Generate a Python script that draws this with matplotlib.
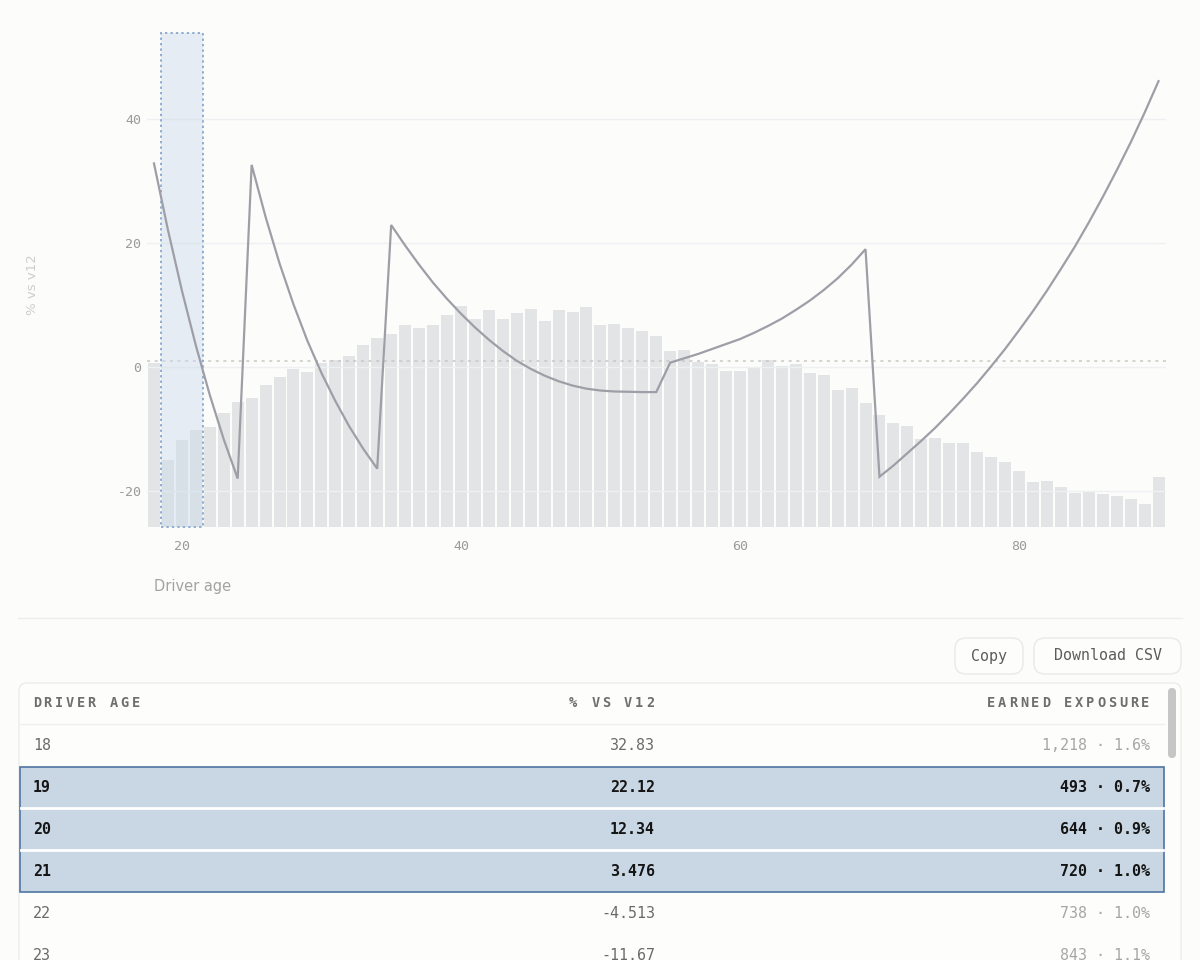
import matplotlib
matplotlib.use("Agg")
import matplotlib.pyplot as plt
from matplotlib.patches import FancyBboxPatch, Rectangle

# ---------------- data ----------------
ages = list(range(18, 91))
pct_vs_v12 = [
    32.83, 22.12, 12.34, 3.476, -4.513, -11.67, -18.0,            # 18-24
    32.6, 24.2, 16.7, 10.1, 4.2, -0.95, -5.5, -9.6, -13.2, -16.4,   # 25-34
    22.9, 19.6, 16.5, 13.6, 11.0, 8.6, 6.4, 4.4, 2.6, 1.0,          # 35-44
    -0.3, -1.4, -2.3, -3.0, -3.5, -3.8, -3.95, -4.0, -4.05, -4.05,  # 45-54
    0.7, 1.4, 2.1, 2.9, 3.7, 4.5, 5.5, 6.6, 7.8, 9.2,               # 55-64
    10.7, 12.4, 14.3, 16.5, 19.0,                                   # 65-69
    -17.7, -15.9, -13.9, -11.9, -9.8, -7.5, -5.1, -2.6, 0.1, 2.9,   # 70-79
    5.9, 9.0, 12.3, 15.8, 19.4, 23.3, 27.4, 31.7, 36.2, 41.0, 46.1, # 80-90
]
exposure = [
    1218, 493, 644, 720, 738, 843,          # 18-23
    928, 953, 1052, 1109, 1173, 1151,       # 24-29
    1217, 1237, 1267, 1346, 1398, 1427,     # 30-35
    1496, 1476, 1496, 1570, 1637, 1538,     # 36-41
    1605, 1538, 1588, 1617, 1526, 1607,     # 42-47
    1595, 1630, 1494, 1501, 1472, 1449,     # 48-53
    1417, 1304, 1311, 1222, 1205, 1156,     # 54-59
    1156, 1178, 1235, 1195, 1210, 1141,     # 60-65
    1128, 1017, 1032, 916, 827, 773,        # 66-71
    746, 654, 662, 622, 622, 556,           # 72-77
    519, 484, 417, 336, 338, 296,           # 78-83
    252, 259, 242, 232, 205, 173,           # 84-89
    373,                                    # 90
]
selected_ages = [19, 20, 21]
table_ages = [18, 19, 20, 21, 22, 23]
ref_level = 1.0
yticks = [-20, 0, 20, 40]
xticks = [20, 40, 60, 80]
headers = ["DRIVER AGE", "% VS V12", "EARNED EXPOSURE"]
buttons = ["Copy", "Download CSV"]
x_label = "Driver age"
y_label = "% vs v12"

# ---------------- style ----------------
BG = "#fcfcfb"
MONO = "DejaVu Sans Mono"
SANS = "DejaVu Sans"
W, H = 1200, 960

fig = plt.figure(figsize=(12, 9.6), dpi=100)
fig.patch.set_facecolor(BG)

# UI layer in pixel coordinates
ui = fig.add_axes([0, 0, 1, 1])
ui.set_xlim(0, W)
ui.set_ylim(H, 0)
ui.axis("off")
ui.set_zorder(0)

# ---------------- chart ----------------
L, R, T, B = 147, 1165.5, 33, 527
ax_bar = fig.add_axes([L / W, 1 - B / H, (R - L) / W, (B - T) / H])
ax_bar.set_zorder(1)
ax_bar.patch.set_alpha(0)
ax_bar.bar(ages, exposure, width=0.86, color="#e3e4e6", linewidth=0)
ax_bar.set_ylim(0, 3659)
ax_bar.set_xlim(17.5, 90.5)
ax_bar.set_yticks([])
for s in ax_bar.spines.values():
    s.set_visible(False)

ax = ax_bar.twinx()
ax.set_zorder(2)
ax.patch.set_alpha(0)
ax.set_ylim(-25.81, 53.87)
ax.set_xlim(17.5, 90.5)
for s in ax.spines.values():
    s.set_visible(False)
ax.yaxis.tick_left()
ax.set_yticks(yticks)
ax.set_yticklabels([str(t) for t in yticks], fontfamily=MONO, fontsize=9.5, color="#9a9a9a")
ax.tick_params(axis="y", length=0, pad=4)
ax_bar.set_xticks(xticks)
ax_bar.set_xticklabels([str(t) for t in xticks], fontfamily=MONO, fontsize=9.5, color="#9a9a9a")
ax_bar.tick_params(axis="x", length=0, pad=9)

for t in yticks:
    ax.axhline(t, color="#eef1f1", lw=1, zorder=0)
ax.axhline(ref_level, color="#c8c8c8", lw=1.1, ls=(0, (2, 3)), zorder=1)

# selection band
lo, hi = min(selected_ages) - 0.5, max(selected_ages) + 0.5
ax.axvspan(lo, hi, facecolor="#c9daea", alpha=0.45, lw=0, zorder=2)
ax.add_patch(Rectangle((lo, -25.81), hi - lo, 53.87 + 25.81, fill=False,
                       ec="#8fadd0", lw=1.4, ls=(0, (1.2, 1.6)), zorder=3,
                       clip_on=False))

ax.plot(ages, pct_vs_v12, color="#9e9ea6", lw=1.6, zorder=4, solid_joinstyle="miter")

fig.text(32 / W, 1 - 285 / H, y_label, rotation=90, ha="center", va="center",
         fontfamily=SANS, fontsize=9.5, color="#cdcdcd")
fig.text(154 / W, 1 - 587 / H, x_label, ha="left", va="center",
         fontfamily=SANS, fontsize=10.5, color="#a3a3a3")

# ---------------- UI: separator, buttons, table ----------------
ui.plot([18, 1182], [618, 618], color="#ededed", lw=1)

btn_boxes = [(955, 68), (1034, 147)]
for (bx, bw), label in zip(btn_boxes, buttons):
    ui.add_patch(FancyBboxPatch((bx, 638), bw, 36,
                                boxstyle="round,pad=0,rounding_size=11",
                                fc="#fdfdfc", ec="#e9e9e9", lw=1))
    ui.text(bx + bw / 2, 656, label, ha="center", va="center",
            fontfamily=MONO, fontsize=10.8, color="#5c5c5c")

ui.add_patch(FancyBboxPatch((19, 683), 1162, 330,
                            boxstyle="round,pad=0,rounding_size=8",
                            fc="#fdfdfc", ec="#ececec", lw=1))
# scrollbar thumb
ui.add_patch(FancyBboxPatch((1168, 688), 8, 70,
                            boxstyle="round,pad=0,rounding_size=4",
                            fc="#c6c6c6", ec="none"))


def spaced(text, x, y, step, align, **kw):
    n = len(text)
    cw = 7.5
    for i, ch in enumerate(text):
        if ch == " ":
            continue
        if align == "left":
            cx = x + cw / 2 + step * i
        else:
            cx = x - cw / 2 - step * (n - 1 - i)
        ui.text(cx, y, ch, ha="center", va="center", **kw)


hkw = dict(fontfamily=MONO, fontsize=9.8, fontweight="bold", color="#6e6e6e")
spaced(headers[0], 33, 703, 11, "left", **hkw)
spaced(headers[1], 654, 703, 11, "right", **hkw)
spaced(headers[2], 1149, 703, 11, "right", **hkw)

row_h = 42
row0 = 724
ui.plot([20, 1164], [row0, row0], color="#efefef", lw=1)

total = sum(exposure)
sel_rows = [i for i, a in enumerate(table_ages) if a in selected_ages]
top_sel = row0 + row_h * sel_rows[0] + 1
bot_sel = row0 + row_h * (sel_rows[-1] + 1)
ui.add_patch(Rectangle((20, top_sel), 1144, bot_sel - top_sel,
                       fc="#c9d7e4", ec="#4f75a3", lw=1.2, zorder=1))

for i, a in enumerate(table_ages):
    yc = row0 + row_h * i + row_h / 2
    k = ages.index(a)
    v = pct_vs_v12[k]
    e = exposure[k]
    sel = a in selected_ages
    c1 = "#151515" if sel else "#6a6a6a"
    c3 = "#151515" if sel else "#a6a6a6"
    fw = "bold" if sel else "normal"
    kw = dict(fontfamily=MONO, fontsize=10.8, va="center", fontweight=fw, zorder=3)
    ui.text(33, yc, str(a), ha="left", color=c1, **kw)
    ui.text(655, yc, f"{v:.4g}", ha="right", color=c1, **kw)
    ui.text(1150, yc, f"{e:,} \u00b7 {e / total * 100:.1f}%", ha="right", color=c3, **kw)
    yb = row0 + row_h * (i + 1)
    if i < len(table_ages) - 1:
        if sel and table_ages[i + 1] in selected_ages:
            ui.plot([21, 1163], [yb, yb], color="white", lw=2, zorder=2)
        elif not sel and table_ages[i + 1] not in selected_ages:
            ui.plot([20, 1164], [yb, yb], color="#efefef", lw=1, zorder=0.5)
    else:
        ui.plot([20, 1164], [yb, yb], color="#efefef", lw=1, zorder=0.5)

fig.savefig("out.png", dpi=100, facecolor=BG)
